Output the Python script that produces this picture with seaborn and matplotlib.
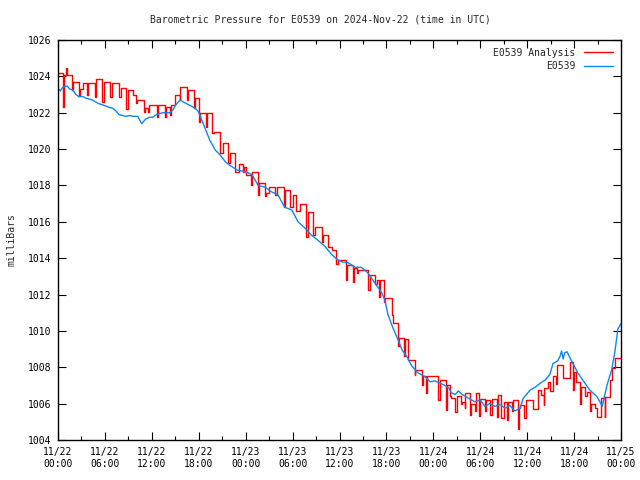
import matplotlib
matplotlib.use("Agg")
import matplotlib.pyplot as plt
import pandas as pd
import seaborn as sns
from matplotlib.ticker import MultipleLocator

# hours since 2024-11-22 00:00 UTC
obs_hours = [0.0, 0.3, 0.6, 1.2, 1.5, 1.9, 2.3, 2.7, 3.1, 3.6, 4.0, 4.4, 4.8, 5.2, 5.6,
             6.1, 6.5, 7.0, 7.4, 7.8, 8.2, 8.7, 9.2, 9.6, 10.2, 10.5, 10.7, 11.2, 11.7,
             12.1, 12.6, 13.0, 13.4, 14.3, 14.7, 15.0, 15.3, 15.6, 16.2, 16.9, 17.5,
             17.9, 18.2, 18.8, 19.4, 20.1, 20.7, 21.4, 22.0, 22.9, 24.0, 24.8, 25.6,
             26.5, 27.3, 28.1, 29.0, 29.9, 30.7, 31.6, 32.4, 33.2, 34.1, 35.0, 35.8,
             36.3, 37.1, 38.0, 38.8, 39.6, 40.5, 41.4, 41.8, 42.2, 42.8, 43.5, 44.0,
             44.6, 45.2, 46.0, 46.9, 47.6, 48.2, 49.5, 50.0, 50.3, 50.8, 51.2, 51.7,
             52.5, 53.3, 54.0, 54.6, 55.2, 55.9, 56.5, 57.2, 57.8, 58.4, 59.1, 59.5,
             60.4, 61.0, 61.6, 62.3, 62.9, 63.3, 63.9, 64.2, 64.4, 64.6, 64.8, 65.1,
             65.5, 66.4, 67.1, 68.0, 68.9, 69.3, 69.6, 70.2, 70.8, 71.2, 71.6, 72.0]
obs_mb = [1023.35, 1023.2, 1023.4, 1023.47, 1023.3, 1023.25, 1023.0, 1022.87, 1022.9,
          1022.8, 1022.75, 1022.7, 1022.6, 1022.5, 1022.45, 1022.37, 1022.3, 1022.25,
          1022.1, 1021.9, 1021.85, 1021.8, 1021.85, 1021.8, 1021.8, 1021.55, 1021.4,
          1021.65, 1021.75, 1021.75, 1021.9, 1021.95, 1022.0, 1022.0, 1022.15, 1022.4,
          1022.55, 1022.7, 1022.55, 1022.4, 1022.25, 1022.1, 1021.8, 1021.15, 1020.5,
          1019.95, 1019.7, 1019.3, 1019.1, 1018.85, 1018.75, 1018.6, 1018.0, 1017.9,
          1017.65, 1017.5, 1016.8, 1016.65, 1016.0, 1015.65, 1015.27, 1015.0, 1014.67,
          1014.2, 1013.9, 1013.8, 1013.75, 1013.5, 1013.5, 1013.2, 1012.65, 1012.1,
          1011.7, 1010.9, 1010.2, 1009.5, 1008.95, 1008.6, 1008.1, 1007.7, 1007.5,
          1007.2, 1007.25, 1007.0, 1006.85, 1006.6, 1006.5, 1006.7, 1006.5, 1006.3,
          1006.1, 1006.2, 1005.85, 1006.0, 1005.85, 1005.95, 1005.75, 1005.9, 1005.6,
          1005.75, 1006.3, 1006.75, 1006.9, 1007.1, 1007.3, 1007.6, 1008.2, 1008.35,
          1008.6, 1008.9, 1008.45, 1008.8, 1008.85, 1008.5, 1007.75, 1007.3, 1006.75,
          1006.4, 1006.1, 1005.85, 1007.0, 1007.85, 1008.8, 1010.1, 1010.4]

ana_hours = [0.0, 0.62, 0.75, 1.0, 1.2, 1.85, 1.95, 2.65, 2.75, 3.24, 3.72, 3.85, 4.7,
             4.86, 5.62, 5.85, 6.7, 6.86, 7.75, 8.0, 8.75, 8.9, 9.6, 10.02, 10.15, 11.0,
             11.1, 11.5, 11.7, 12.6, 12.75, 13.65, 13.8, 14.3, 14.4, 14.96, 15.55, 15.6,
             16.5, 16.6, 17.45, 17.55, 18.0, 18.1, 18.9, 19.0, 19.65, 19.9, 20.7, 21.05,
             21.8, 22.0, 22.6, 23.1, 23.7, 23.8, 24.1, 24.7, 24.85, 25.6, 25.75, 26.5,
             26.6, 27.02, 27.75, 27.96, 28.9, 29.0, 29.67, 30.1, 30.5, 30.95, 31.7, 32.0,
             32.65, 32.9, 33.7, 33.9, 34.57, 35.0, 35.6, 35.8, 36.8, 36.9, 37.7, 37.9,
             38.3, 38.4, 39.6, 39.9, 40.6, 40.75, 41.1, 41.2, 41.7, 41.8, 42.7, 42.8,
             43.5, 43.6, 44.3, 44.4, 44.7, 44.8, 45.6, 45.7, 46.5, 46.7, 47.1, 47.2,
             48.6, 48.9, 49.6, 49.7, 50.1, 50.2, 50.8, 51.0, 51.6, 51.7, 52.0, 52.1,
             52.7, 52.8, 53.3, 53.4, 53.9, 54.0, 54.6, 54.7, 55.3, 55.5, 56.1, 56.3,
             56.7, 57.1, 57.4, 57.5, 58.0, 58.2, 58.8, 58.9, 59.1, 59.6, 59.8, 60.8,
             61.4, 61.8, 62.1, 62.2, 62.7, 62.95, 63.3, 63.7, 63.8, 64.6, 64.8, 65.5,
             65.9, 66.0, 66.3, 66.7, 66.9, 67.4, 67.6, 68.0, 68.2, 68.7, 68.9, 69.5,
             69.9, 70.0, 70.6, 70.9, 71.2, 72.0]
ana_mb = [1024.17, 1022.33, 1024.08, 1024.44, 1024.08, 1023.25, 1023.71, 1022.98, 1023.3,
          1023.62, 1022.98, 1023.62, 1022.88, 1023.84, 1022.61, 1023.71, 1022.88, 1023.62,
          1022.88, 1023.34, 1022.2, 1023.25, 1022.98, 1022.52, 1022.7, 1022.06, 1022.24,
          1022.06, 1022.43, 1021.78, 1022.4, 1021.78, 1022.33, 1021.9, 1022.4, 1022.98,
          1022.7, 1023.43, 1022.7, 1023.25, 1022.24, 1022.8, 1021.5, 1022.0, 1021.23,
          1022.0, 1020.87, 1020.96, 1019.78, 1020.35, 1019.23, 1019.8, 1018.76, 1019.2,
          1018.76, 1019.0, 1018.6, 1018.03, 1018.76, 1017.5, 1018.12, 1017.4, 1017.6,
          1017.9, 1017.5, 1017.93, 1016.83, 1017.75, 1016.8, 1017.47, 1016.6, 1017.0,
          1015.18, 1016.56, 1015.3, 1015.73, 1014.9, 1015.27, 1014.6, 1014.45, 1013.7,
          1013.9, 1012.8, 1013.63, 1012.7, 1013.44, 1013.17, 1013.35, 1012.26, 1013.1,
          1012.6, 1012.8, 1011.89, 1012.8, 1011.6, 1011.8, 1010.88, 1010.43, 1009.15,
          1009.6, 1008.6, 1009.55, 1008.6, 1008.42, 1007.6, 1007.87, 1007.05, 1007.51,
          1006.6, 1007.51, 1006.2, 1007.3, 1005.65, 1007.0, 1006.4, 1006.3, 1005.56,
          1006.4, 1006.0, 1006.1, 1005.74, 1006.57, 1005.37, 1006.0, 1005.6, 1006.57,
          1005.3, 1006.24, 1005.6, 1006.2, 1005.37, 1006.24, 1005.28, 1006.48, 1005.19,
          1006.1, 1005.1, 1006.1, 1005.6, 1006.2, 1004.6, 1005.74, 1005.93, 1005.19,
          1006.2, 1005.68, 1006.75, 1006.5, 1005.93, 1006.84, 1007.2, 1006.7, 1007.5,
          1007.1, 1008.12, 1007.4, 1007.39, 1008.3, 1006.75, 1007.76, 1007.2, 1006.0,
          1006.93, 1006.4, 1006.66, 1005.6, 1006.0, 1005.75, 1005.24, 1006.3, 1005.28,
          1006.38, 1007.3, 1007.94, 1008.49, 1008.49]

tick_hours = [0, 6, 12, 18, 24, 30, 36, 42, 48, 54, 60, 66, 72]
tick_labels = ["11/22\n00:00", "11/22\n06:00", "11/22\n12:00", "11/22\n18:00",
               "11/23\n00:00", "11/23\n06:00", "11/23\n12:00", "11/23\n18:00",
               "11/24\n00:00", "11/24\n06:00", "11/24\n12:00", "11/24\n18:00",
               "11/25\n00:00"]
y_ticks = list(range(1004, 1027, 2))

sns.set_theme(style="ticks")
plt.rcParams['font.family'] = ['DejaVu Sans Mono']
plt.rcParams['font.size'] = 7

fig = plt.figure(figsize=(6.4, 4.8), dpi=100)
ax = fig.add_axes([58/640, 40/480, 563/640, 400/480])

ana = pd.DataFrame({'hour': ana_hours, 'mb': ana_mb})
obs = pd.DataFrame({'hour': obs_hours, 'mb': obs_mb})

# analysis drawn first, observations on top (as in the original)
sns.lineplot(data=ana, x='hour', y='mb', ax=ax, color='#ff0000', lw=1.0,
             drawstyle='steps-post', estimator=None, label='E0539 Analysis')
sns.lineplot(data=obs, x='hour', y='mb', ax=ax, color='#0d88f0', lw=1.0,
             estimator=None, label='E0539')

ax.set_xlim(0, 72)
ax.set_ylim(1004, 1026)
ax.set_xticks(tick_hours)
ax.set_xticklabels(tick_labels)
ax.xaxis.set_minor_locator(MultipleLocator(3))
ax.set_yticks(y_ticks)
ax.tick_params(which='both', direction='in', top=True, right=True, colors='black',
               labelsize=7, width=0.8)
ax.tick_params(which='major', length=6, pad=5)
ax.tick_params(which='minor', length=3)
for s in ax.spines.values():
    s.set_color('black')
    s.set_linewidth(1)
ax.set_xlabel('')
ax.set_ylabel('milliBars', fontsize=7, labelpad=8)

ax.legend(loc='upper right', frameon=False, markerfirst=False, fontsize=7,
          handlelength=3.0, handletextpad=0.9, labelspacing=0.35,
          borderaxespad=0.4)

fig.text(0.5, 1 - 20/480, 'Barometric Pressure for E0539 on 2024-Nov-22 (time in UTC)',
         ha='center', va='center', fontsize=7)

fig.savefig('out.png', dpi=100, facecolor='white')
